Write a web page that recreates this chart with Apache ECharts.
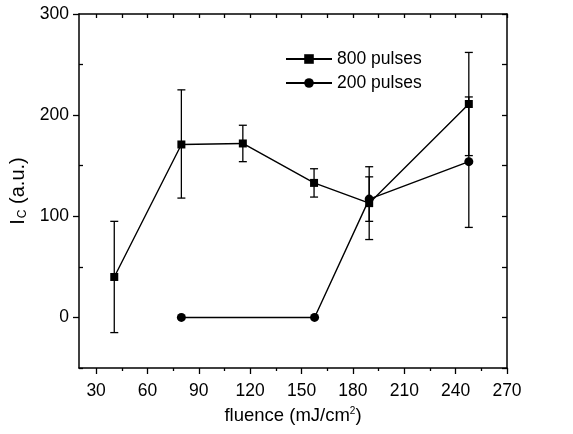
<!DOCTYPE html>
<html>
<head>
<meta charset="utf-8">
<script src="https://cdn.jsdelivr.net/npm/echarts@6/dist/echarts.min.js"></script>
<style>html,body{margin:0;padding:0;background:#fff}#c{width:573px;height:434px}</style>
</head>
<body>
<div id="c"></div>
<script>
// data
const x800 = [40.6, 79.8, 115.7, 157.3, 189.5, 247.7];
const y800 = [40, 171, 172, 133, 113, 211];
const lo800 = [-15, 118, 154, 119, 95, 160];
const hi800 = [95, 225, 190, 147, 139, 262];
const x200 = [79.8, 157.6, 189.5, 247.7];
const y200 = [0, 0, 117, 154];
const lo200 = [null, null, 77, 89];
const hi200 = [null, null, 149, 218];
const xTickLabels = [30, 60, 90, 120, 150, 180, 210, 240, 270];
const xMinorTicks = [45, 75, 105, 135, 165, 195, 225, 255];
const yTickLabels = [0, 100, 200, 300];
const yMinorTicks = [-50, 50, 150, 250];

const FONT = 'Liberation Sans';
const black = '#000';

function errData(xs, lo, hi) {
  const out = [];
  xs.forEach((x, i) => { if (lo[i] != null) out.push([x, lo[i], hi[i]]); });
  return out;
}
function errRender(params, api) {
  const x = api.value(0), l = api.value(1), h = api.value(2);
  const p1 = api.coord([x, l]), p2 = api.coord([x, h]);
  const w = 4;
  const st = { stroke: black, lineWidth: 1.3 };
  return {
    type: 'group',
    children: [
      { type: 'line', shape: { x1: p1[0], y1: p1[1], x2: p2[0], y2: p2[1] }, style: st },
      { type: 'line', shape: { x1: p1[0] - w, y1: p1[1], x2: p1[0] + w, y2: p1[1] }, style: st },
      { type: 'line', shape: { x1: p2[0] - w, y1: p2[1], x2: p2[0] + w, y2: p2[1] }, style: st }
    ]
  };
}

const axLine = { show: true, onZero: false, lineStyle: { color: black, width: 1.5 } };
const noLine = { show: false, onZero: false };
const XMIN = 20, XMAX = 270, YMIN = -50, YMAX = 300;

const chart = echarts.init(document.getElementById('c'));
chart.setOption({
  animation: false,
  backgroundColor: '#fff',
  grid: { left: 79, right: 66, top: 14, bottom: 66, containLabel: false },
  legend: {
    orient: 'vertical', left: 280, top: 44,
    itemWidth: 46, itemHeight: 12, itemGap: 4,
    data: ['800 pulses', '200 pulses'],
    textStyle: { fontFamily: FONT, fontSize: 17.5, color: black, lineHeight: 20 },
    selectedMode: false
  },
  xAxis: [
    {
      type: 'value', min: XMIN, max: XMAX, position: 'bottom',
      axisLine: axLine, splitLine: { show: false },
      axisTick: { show: true, inside: false, length: 6, customValues: xTickLabels, lineStyle: { color: black, width: 1.3 } },
      axisLabel: { show: true, customValues: xTickLabels, margin: 14, fontFamily: FONT, fontSize: 17.5, color: black },
      name: 'fluence (mJ/cm{sup|2})', nameLocation: 'middle', nameGap: 38,
      nameTextStyle: { fontFamily: FONT, fontSize: 18.5, color: black,
        rich: { sup: { fontFamily: FONT, fontSize: 10, color: black, verticalAlign: 'top', padding: [0, 0, 9, 0] } } }
    },
    {
      type: 'value', min: XMIN, max: XMAX, position: 'bottom',
      axisLine: noLine, splitLine: { show: false },
      axisTick: { show: true, inside: false, length: 3, customValues: xMinorTicks, lineStyle: { color: black, width: 1.3 } },
      axisLabel: { show: false }
    },
    {
      type: 'value', min: XMIN, max: XMAX, position: 'top',
      axisLine: axLine, splitLine: { show: false },
      axisTick: { show: true, inside: true, length: 4, customValues: xTickLabels.concat(xMinorTicks), lineStyle: { color: black, width: 1.3 } },
      axisLabel: { show: false }
    }
  ],
  yAxis: [
    {
      type: 'value', min: YMIN, max: YMAX, position: 'left',
      axisLine: axLine, splitLine: { show: false },
      axisTick: { show: true, inside: false, length: 6, customValues: yTickLabels, lineStyle: { color: black, width: 1.3 } },
      axisLabel: { show: true, customValues: yTickLabels, margin: 10, fontFamily: FONT, fontSize: 17.5, color: black },
      name: '{i|I}{sub|C} (a.u.)', nameLocation: 'middle', nameGap: 46,
      nameTextStyle: { fontFamily: FONT, fontSize: 20, color: black,
        rich: { i: { fontFamily: FONT, fontSize: 20, color: black },
                sub: { fontFamily: FONT, fontSize: 12, color: black, verticalAlign: 'bottom', padding: [9, 0, 0, 1] } } }
    },
    {
      type: 'value', min: YMIN, max: YMAX, position: 'left',
      axisLine: noLine, splitLine: { show: false },
      axisTick: { show: true, inside: true, length: 4, customValues: yMinorTicks, lineStyle: { color: black, width: 1.3 } },
      axisLabel: { show: false }
    },
    {
      type: 'value', min: YMIN, max: YMAX, position: 'right',
      axisLine: axLine, splitLine: { show: false },
      axisTick: { show: true, inside: true, length: 5, customValues: yTickLabels.concat(yMinorTicks), lineStyle: { color: black, width: 1.3 } },
      axisLabel: { show: false }
    }
  ],
  series: [
    {
      type: 'custom', name: 'err800', xAxisIndex: 0, yAxisIndex: 0, z: 1,
      renderItem: errRender, encode: { x: 0, y: [1, 2] },
      data: errData(x800, lo800, hi800), silent: true
    },
    {
      type: 'custom', name: 'err200', xAxisIndex: 0, yAxisIndex: 0, z: 1,
      renderItem: errRender, encode: { x: 0, y: [1, 2] },
      data: errData(x200, lo200, hi200), silent: true
    },
    {
      type: 'line', name: '800 pulses', xAxisIndex: 0, yAxisIndex: 0, z: 3,
      data: x800.map((x, i) => [x, y800[i]]),
      symbol: 'rect', symbolSize: 8, showAllSymbol: true,
      lineStyle: { color: black, width: 1.4 }, itemStyle: { color: black }
    },
    {
      type: 'line', name: '200 pulses', xAxisIndex: 0, yAxisIndex: 0, z: 3,
      data: x200.map((x, i) => [x, y200[i]]),
      symbol: 'circle', symbolSize: 9, showAllSymbol: true,
      lineStyle: { color: black, width: 1.4 }, itemStyle: { color: black }
    }
  ]
});
</script>
</body>
</html>
